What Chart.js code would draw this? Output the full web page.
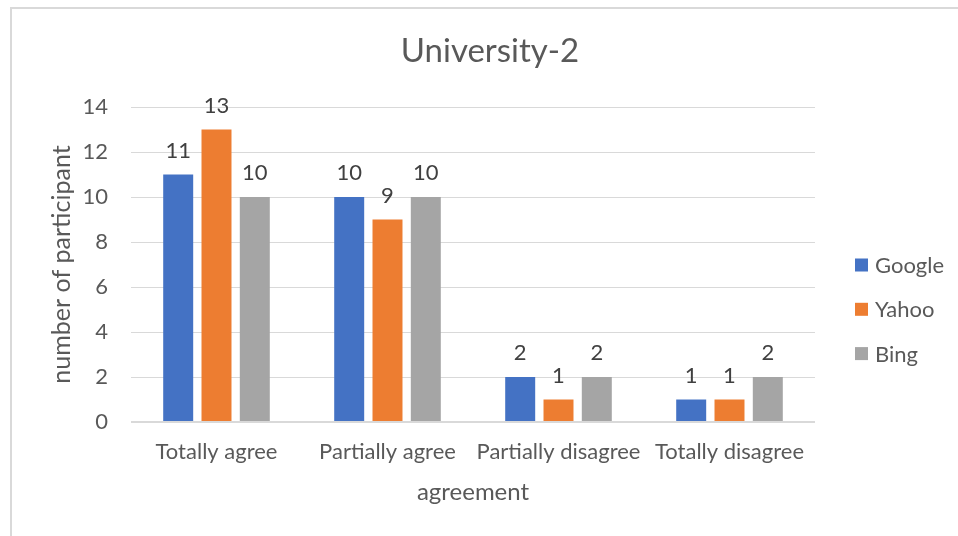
<!DOCTYPE html>
<html><head><meta charset="utf-8">
<script src="https://cdn.jsdelivr.net/npm/chart.js@4.4.0/dist/chart.umd.min.js"></script>
<style>
html,body{margin:0;padding:0;background:#fff;overflow:hidden;width:958px;height:536px}
#frame{position:absolute;left:10px;top:7px;width:990px;height:560px;border-left:2px solid #d9d9d9;border-top:2px solid #d9d9d9;box-sizing:border-box}
#wrap{position:absolute;left:0;top:0;width:980px;height:536px}
</style></head><body>
<div id="frame"></div>
<div id="wrap"><canvas id="c" width="980" height="536"></canvas></div>
<script>
const categories = ['Totally agree', 'Partially agree', 'Partially disagree', 'Totally disagree'];
const seriesNames = ['Google', 'Yahoo', 'Bing'];
const googleValues = [11, 10, 2, 1];
const yahooValues = [13, 9, 1, 1];
const bingValues = [10, 10, 2, 2];
const yTickValues = [0, 2, 4, 6, 8, 10, 12, 14];
const seriesColors = ['#4472C4', '#ED7D31', '#A5A5A5'];

const FONT = 'Lato, "Open Sans", sans-serif';
const TXT = '#595959';

const dataLabelPlugin = {
  id: 'dataLabels',
  afterDatasetsDraw(chart) {
    const ctx = chart.ctx;
    ctx.save();
    ctx.font = '22px ' + FONT;
    ctx.fillStyle = '#404040';
    ctx.textAlign = 'center';
    ctx.textBaseline = 'alphabetic';
    chart.data.datasets.forEach((ds, i) => {
      const meta = chart.getDatasetMeta(i);
      meta.data.forEach((el, j) => {
        ctx.fillText(String(ds.data[j]), el.x, el.y - 17);
      });
    });
    ctx.restore();
  }
};

const legendPlugin = {
  id: 'sideLegend',
  afterDraw(chart) {
    const ctx = chart.ctx;
    ctx.save();
    ctx.font = '22px ' + FONT;
    ctx.textAlign = 'left';
    ctx.textBaseline = 'middle';
    chart.data.datasets.forEach((ds, i) => {
      const cy = 265 + i * 44.3;
      ctx.fillStyle = ds.backgroundColor;
      ctx.fillRect(855, cy - 6.5, 13, 13);
      ctx.fillStyle = TXT;
      ctx.fillText(ds.label, 875, cy + 1);
    });
    ctx.restore();
  }
};

new Chart(document.getElementById('c'), {
  type: 'bar',
  data: {
    labels: categories,
    datasets: [
      { label: seriesNames[0], data: googleValues, backgroundColor: seriesColors[0] },
      { label: seriesNames[1], data: yahooValues, backgroundColor: seriesColors[1] },
      { label: seriesNames[2], data: bingValues, backgroundColor: seriesColors[2] }
    ]
  },
  options: {
    responsive: false,
    animation: false,
    devicePixelRatio: 1,
    layout: { padding: 0 },
    datasets: { bar: { categoryPercentage: 0.672, barPercentage: 0.783 } },
    plugins: {
      legend: { display: false },
      tooltip: { enabled: false },
      title: {
        display: true,
        text: 'University-2',
        color: TXT,
        font: { family: FONT, size: 33, weight: 'normal' },
        padding: { top: 32, bottom: 35.4 }
      }
    },
    scales: {
      x: {
        grid: { display: false, drawTicks: false },
        border: { display: false },
        ticks: { color: TXT, font: { family: FONT, size: 22 }, padding: 17, maxRotation: 0, autoSkip: false },
        title: { display: true, text: 'agreement', color: TXT, font: { family: FONT, size: 24 }, padding: { top: 0, bottom: 29 } },
        afterFit(s) { s.height = 114; }
      },
      y: {
        min: 0, max: 14,
        afterBuildTicks(s) { s.ticks = yTickValues.map(v => ({ value: v })); },
        grid: {
          color: '#d9d9d9',
          lineWidth: (c) => (c.tick && c.tick.value === 0 ? 2 : 1),
          drawTicks: false
        },
        border: { display: false },
        ticks: { color: TXT, font: { family: FONT, size: 22 }, padding: 23 },
        title: { display: true, text: 'number of participant', color: TXT, font: { family: FONT, size: 25 }, padding: { top: 47, bottom: 0 } },
        afterFit(s) { s.width = 131; }
      },
      spacer: {
        type: 'linear',
        position: 'right',
        display: true,
        grid: { display: false, drawTicks: false },
        border: { display: false },
        ticks: { display: false },
        afterFit(s) { s.width = 165; }
      }
    }
  },
  plugins: [dataLabelPlugin, legendPlugin]
});
</script>
</body></html>
